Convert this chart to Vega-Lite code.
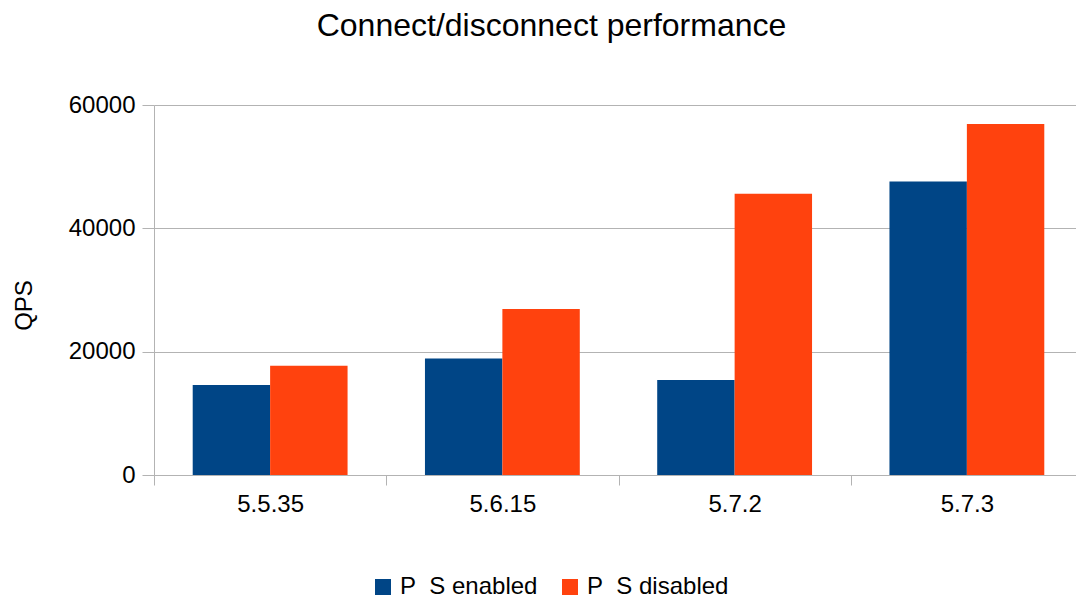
{
  "$schema": "https://vega.github.io/schema/vega-lite/v6.json",
  "width": 929,
  "height": 370,
  "autosize": {"type": "none"},
  "padding": {"left": 154, "top": 105, "right": -7, "bottom": 124},
  "background": "#ffffff",
  "title": {
    "text": "Connect/disconnect performance",
    "font": "Liberation Sans",
    "fontSize": 32,
    "fontWeight": "normal",
    "color": "#000000",
    "anchor": "middle",
    "dx": -67,
    "baseline": "alphabetic",
    "offset": 25
  },
  "data": {
    "values": [
      {"version": "5.5.35", "series": "P\u00a0\u00a0S enabled", "qps": 14600},
      {"version": "5.5.35", "series": "P\u00a0\u00a0S disabled", "qps": 17700},
      {"version": "5.6.15", "series": "P\u00a0\u00a0S enabled", "qps": 18900},
      {"version": "5.6.15", "series": "P\u00a0\u00a0S disabled", "qps": 26900},
      {"version": "5.7.2", "series": "P\u00a0\u00a0S enabled", "qps": 15400},
      {"version": "5.7.2", "series": "P\u00a0\u00a0S disabled", "qps": 45600},
      {"version": "5.7.3", "series": "P\u00a0\u00a0S enabled", "qps": 47600},
      {"version": "5.7.3", "series": "P\u00a0\u00a0S disabled", "qps": 56900}
    ]
  },
  "mark": {"type": "bar"},
  "encoding": {
    "x": {
      "field": "version",
      "type": "nominal",
      "sort": null,
      "scale": {"paddingInner": 0, "paddingOuter": 0},
      "axis": {
        "title": null,
        "labelAngle": 0,
        "tickBand": "extent",
        "tickSize": 10,
        "tickColor": "#b3b3b3",
        "domainColor": "#b3b3b3",
        "labelFont": "Liberation Sans",
        "labelFontSize": 24,
        "labelColor": "#000000",
        "labelPadding": 7,
        "grid": false
      }
    },
    "xOffset": {
      "field": "series",
      "type": "nominal",
      "sort": ["P\u00a0\u00a0S enabled", "P\u00a0\u00a0S disabled"],
      "scale": {"paddingInner": 0, "paddingOuter": 0.5}
    },
    "y": {
      "field": "qps",
      "type": "quantitative",
      "scale": {"domain": [0, 60000], "nice": false},
      "axis": {
        "title": "QPS",
        "titleFont": "Liberation Sans",
        "titleFontSize": 24,
        "titleFontWeight": "normal",
        "titleColor": "#000000",
        "titleX": -130,
        "titleY": 200,
        "titleAngle": -90,
        "titleAlign": "center",
        "titleBaseline": "middle",
        "values": [0, 20000, 40000, 60000],
        "format": "d",
        "tickSize": 12,
        "tickColor": "#b3b3b3",
        "domainColor": "#b3b3b3",
        "gridColor": "#b3b3b3",
        "labelFont": "Liberation Sans",
        "labelFontSize": 24,
        "labelColor": "#000000",
        "labelPadding": 7
      }
    },
    "color": {
      "field": "series",
      "type": "nominal",
      "sort": ["P\u00a0\u00a0S enabled", "P\u00a0\u00a0S disabled"],
      "scale": {"range": ["#004586", "#ff420e"]},
      "legend": {
        "title": null,
        "orient": "none",
        "direction": "horizontal",
        "legendX": 217,
        "legendY": 470,
        "padding": 0,
        "symbolType": "square",
        "symbolSize": 256,
        "symbolStrokeWidth": 0,
        "labelFont": "Liberation Sans",
        "labelFontSize": 24,
        "labelColor": "#000000",
        "labelOffset": 5,
        "columnPadding": 20
      }
    }
  },
  "config": {
    "view": {"stroke": null}
  }
}
